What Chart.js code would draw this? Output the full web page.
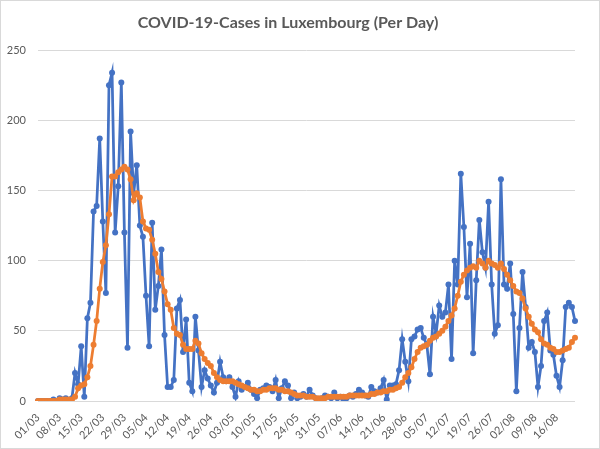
<!DOCTYPE html>
<html>
<head>
<meta charset="utf-8">
<script src="https://cdn.jsdelivr.net/npm/chart.js@4"></script>
<style>
  html, body { margin: 0; padding: 0; background: #fff; }
  #wrap { position: relative; width: 598px; height: 447px; border: 1px solid #d9d9d9; }
</style>
</head>
<body>
<div id="wrap"><canvas id="myChart" width="598" height="447"></canvas></div>
<script>
// daily new cases, 01/03 .. 22/08
var dailyCases = [
  0, 0, 0, 0, 0, 1, 0, 2, 1, 2, 0, 2,
  20, 12, 39, 3, 59, 70, 135, 139, 187, 128, 77, 225, 234, 120, 153, 227, 120, 38,
  192, 148, 168, 125, 117, 75, 39, 127, 65, 82, 108, 47, 10, 10, 15, 66, 72, 35, 58, 13,
  7, 60, 36, 10, 22, 16, 11, 6, 13, 28, 17, 14, 17, 10, 3, 14, 8, 10, 13, 8,
  5, 2, 8, 9, 11, 10, 7, 15, 2, 9, 14, 11, 2, 6, 2, 3, 5, 3, 8, 4,
  2, 1, 2, 4, 3, 2, 6, 2, 3, 0, 2, 4, 3, 5, 8, 6, 4, 3, 10, 7,
  6, 9, 15, 1, 11, 11, 12, 22, 44, 28, 14, 44, 46, 51, 52, 45, 40, 19, 60, 48,
  68, 60, 63, 83, 30, 100, 83, 162, 124, 74, 112, 34, 86, 129, 106, 95, 142, 83, 48, 54,
  158, 83, 80, 98, 62, 7, 52, 92, 67, 38, 42, 35, 10, 25, 57, 63, 36, 33, 18, 10,
  29, 67, 70, 67, 57
];

// 7-day average (orange line)
var weekAverage = [
  0, 0, 0, 0, 0, 0, 0, 1, 1, 1, 1, 1,
  3, 9, 11, 12, 17, 25, 40, 57, 80, 99, 111, 133, 160, 160, 163, 165, 167, 165,
  158, 143, 148, 145, 128, 123, 122, 115, 105, 92, 87, 78, 69, 65, 52, 48, 47, 40, 37, 37,
  37, 43, 41, 34, 30, 27, 25, 20, 17, 15, 14, 14, 14, 14, 13, 12, 11, 10, 9, 8,
  8, 7, 7, 8, 8, 9, 9, 9, 8, 8, 7, 7, 6, 5, 4, 4, 4, 3, 3, 3,
  2, 2, 2, 2, 3, 3, 3, 3, 3, 3, 3, 4, 4, 4, 4, 4, 4, 4, 5, 5,
  6, 6, 7, 7, 8, 8, 9, 10, 13, 17, 20, 24, 30, 35, 38, 39, 40, 43, 45, 46,
  48, 50, 53, 57, 61, 66, 75, 85, 90, 93, 95, 96, 95, 100, 98, 95, 100, 98, 97, 95,
  98, 94, 90, 86, 82, 78, 77, 73, 66, 60, 55, 51, 49, 44, 41, 40, 38, 37, 35, 35,
  36, 37, 38, 42, 45
];

var tickLabels = ['01/03', '08/03', '15/03', '22/03', '29/03', '05/04', '12/04', '19/04',
  '26/04', '03/05', '10/05', '17/05', '24/05', '31/05', '07/06', '14/06', '21/06',
  '28/06', '05/07', '12/07', '19/07', '26/07', '02/08', '09/08', '16/08'];

var yTicks = [0, 50, 100, 150, 200, 250];

// one category per day
var days = [];
for (var d = 0; d < dailyCases.length; d++) {
  var dt = new Date(2020, 2, 1 + d);
  days.push(('0' + dt.getDate()).slice(-2) + '/' + ('0' + (dt.getMonth() + 1)).slice(-2));
}

var grey = '#595959';
var fontFam = "Lato, 'Open Sans', 'Liberation Sans', sans-serif";

var ctx = document.getElementById('myChart').getContext('2d');
var chart = new Chart(ctx, {
  type: 'line',
  data: {
    labels: days,
    datasets: [{
      label: 'Cases',
      data: dailyCases,
      order: 1,
      borderColor: '#4472C4',
      backgroundColor: '#4472C4',
      borderWidth: 2.75,
      pointRadius: 3,
      pointBorderWidth: 0,
      tension: 0
    }, {
      label: '7-day average',
      data: weekAverage,
      order: 0,
      borderColor: '#ED7D31',
      backgroundColor: '#ED7D31',
      borderWidth: 2.75,
      pointRadius: 3,
      pointBorderWidth: 0,
      tension: 0
    }]
  },
  options: {
    responsive: false,
    animation: false,
    layout: { padding: { left: 0, right: 24, top: 0, bottom: 4 } },
    plugins: {
      legend: { display: false },
      tooltip: { enabled: false },
      title: {
        display: true,
        text: 'COVID-19-Cases in Luxembourg (Per Day)',
        color: grey,
        font: { family: fontFam, size: 16, weight: 'bold' },
        padding: { top: 12, bottom: 18 }
      }
    },
    scales: {
      x: {
        offset: false,
        grid: { display: false },
        border: { display: false },
        ticks: {
          autoSkip: false,
          maxRotation: 45,
          minRotation: 45,
          color: grey,
          font: { family: fontFam, size: 11 },
          padding: 2,
          callback: function (v, i) {
            var lbl = days[i];
            return tickLabels.indexOf(lbl) >= 0 ? lbl : '';
          }
        },
        afterFit: function (s) { s.height = 43; }
      },
      y: {
        min: yTicks[0],
        max: yTicks[yTicks.length - 1],
        grid: { color: '#d9d9d9', drawTicks: false },
        border: { display: false },
        ticks: {
          stepSize: 50,
          color: grey,
          padding: 12,
          font: { family: fontFam, size: 11 }
        },
        afterFit: function (s) { s.width = 37; }
      }
    }
  }
});
</script>
</body>
</html>
